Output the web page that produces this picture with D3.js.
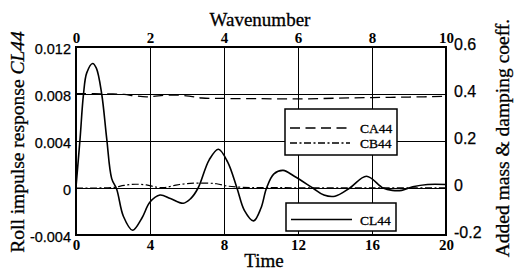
<!DOCTYPE html>
<html><head><meta charset="utf-8">
<script src="https://cdn.jsdelivr.net/npm/d3@7/dist/d3.min.js"></script>
<style>
html,body{margin:0;padding:0;background:#fff;}
svg{display:block;}
</style></head>
<body>
<svg id="c" width="514" height="273"></svg>
<script>
// ---- data ----
const timeTicks = [0, 4, 8, 12, 16, 20];
const wnTicks = [0, 2, 4, 6, 8, 10];
const leftTicks = [-0.004, 0, 0.004, 0.008, 0.012];
const leftLabels = ["-0.004", "0", "0.004", "0.008", "0.012"];
const rightTicks = [-0.2, 0, 0.2, 0.4, 0.6];
const rightLabels = ["-0.2", "0", "0.2", "0.4", "0.6"];

// CL44 roll impulse response vs time
const clTime = [0, 0.22, 0.4, 0.58, 0.9, 1.1, 1.39, 1.66, 1.93, 2.2, 2.56, 3.06, 3.55, 4.0, 4.54, 5.1, 5.8, 6.2, 6.6, 7.2, 7.7, 8.2, 8.7, 9.1, 9.6, 10.0, 10.3, 10.7, 11.2, 11.8, 12.8, 13.4, 14.0, 14.8, 15.7, 16.6, 17.1, 17.6, 18.2, 19.0, 20.0];
const clValue = [0.0001, 0.0042, 0.0079, 0.0098, 0.0106, 0.0102, 0.0080, 0.0042, 0.0008, -0.0001, -0.0024, -0.0036, -0.0026, -0.0012, -0.0006, -0.0009, -0.0013, -0.0009, 0.0000, 0.0024, 0.0033, 0.0022, 0.0000, -0.0019, -0.0028, -0.0017, 0.0000, 0.0012, 0.0015, 0.0010, 0.0000, -0.0006, -0.0007, 0.0000, 0.0010, 0.0000, -0.0002, -0.0002, 0.0001, 0.0003, 0.0003];

// CA44 added mass vs wavenumber
const caWn = [0, 0.5, 1.0, 1.3, 1.6, 1.9, 2.1, 2.4, 2.8, 3.1, 3.4, 4.0, 5.0, 6.0, 7.0, 8.0, 9.0, 10.0];
const caValue = [0.401, 0.401, 0.400, 0.398, 0.392, 0.388, 0.390, 0.395, 0.395, 0.390, 0.383, 0.381, 0.380, 0.379, 0.382, 0.385, 0.387, 0.390];

// CB44 damping vs wavenumber
const cbWn = [0, 0.5, 1.0, 1.3, 1.6, 1.9, 2.2, 2.4, 2.7, 3.0, 3.4, 3.8, 4.1, 4.5, 5.0, 6.0, 8.0, 10.0];
const cbValue = [0.0, 0.0, 0.002, 0.011, 0.016, 0.013, 0.003, 0.002, 0.012, 0.019, 0.021, 0.018, 0.008, 0.003, 0.002, 0.001, 0.001, 0.001];

const legendTop = [{name: "CA44", dash: "10,5.5"}, {name: "CB44", dash: "7,2.5,2,2.5"}];
const legendBottom = [{name: "CL44", dash: null}];

// ---- layout ----
const L = 76, R = 446, T = 47, B = 235;
const svg = d3.select("#c");
const x = d3.scaleLinear().domain([0, 20]).range([L, R]);
const xw = d3.scaleLinear().domain([0, 10]).range([L, R]);
const yL = d3.scaleLinear().domain([-0.004, 0.012]).range([B, T]);
const yR = d3.scaleLinear().domain([-0.2, 0.6]).range([B, T]);

const sans = "'Liberation Sans', Arial, sans-serif";
const serif = "'Liberation Serif', 'Times New Roman', serif";
const px = v => Math.round(v) + 0.5;

// gridlines
const g = svg.append("g").attr("stroke", "#000").attr("stroke-width", 1).attr("shape-rendering", "crispEdges");
g.selectAll("line.v").data(timeTicks.slice(1, -1)).join("line")
  .attr("x1", d => px(x(d))).attr("x2", d => px(x(d))).attr("y1", T).attr("y2", B);
g.selectAll("line.h").data([0, 0.004, 0.008]).join("line")
  .attr("x1", L).attr("x2", R).attr("y1", d => px(yL(d))).attr("y2", d => px(yL(d)));

// curves
const curve = d3.curveCatmullRom.alpha(0.5);
const clLine = d3.line().x((d, i) => x(clTime[i])).y(d => yL(d)).curve(curve);
const caLine = d3.line().x((d, i) => xw(caWn[i])).y(d => yR(d)).curve(curve);
const cbLine = d3.line().x((d, i) => xw(cbWn[i])).y(d => yR(d)).curve(curve);

svg.append("path").attr("d", caLine(caValue)).attr("fill", "none")
  .attr("stroke", "#000").attr("stroke-width", 1.3).attr("stroke-dasharray", legendTop[0].dash);
svg.append("path").attr("d", cbLine(cbValue)).attr("fill", "none")
  .attr("stroke", "#000").attr("stroke-width", 1.2).attr("stroke-dasharray", legendTop[1].dash);
svg.append("path").attr("d", clLine(clValue)).attr("fill", "none")
  .attr("stroke", "#000").attr("stroke-width", 1.6);

// frame
svg.append("rect").attr("x", L).attr("y", T).attr("width", R - L).attr("height", B - T)
  .attr("fill", "none").attr("stroke", "#000").attr("stroke-width", 2).attr("shape-rendering", "crispEdges");

// axes
function styleAxis(sel, font, size, weight) {
  sel.select(".domain").remove();
  sel.selectAll("line").remove();
  sel.selectAll("text").attr("font-family", font).attr("font-size", size)
    .attr("font-weight", weight).attr("fill", "#000");
}
const axB = svg.append("g").attr("transform", `translate(0,${B})`)
  .call(d3.axisBottom(x).tickValues(timeTicks).tickSize(0).tickPadding(4).tickFormat(d3.format("d")));
styleAxis(axB, serif, 15, "bold");
const axT = svg.append("g").attr("transform", `translate(0,${T})`)
  .call(d3.axisTop(xw).tickValues(wnTicks).tickSize(0).tickPadding(4).tickFormat(d3.format("d")));
styleAxis(axT, serif, 15, "bold");
const axL = svg.append("g").attr("transform", `translate(${L},0)`)
  .call(d3.axisLeft(yL).tickValues(leftTicks).tickSize(0).tickPadding(5)
    .tickFormat((d, i) => leftLabels[i]));
styleAxis(axL, sans, 14.5, "normal");
axL.selectAll("text").attr("dy", "0.45em").attr("stroke", "#000").attr("stroke-width", 0.25);
const axR = svg.append("g").attr("transform", `translate(${R},0)`)
  .call(d3.axisRight(yR).tickValues(rightTicks).tickSize(0).tickPadding(8)
    .tickFormat((d, i) => rightLabels[i]));
styleAxis(axR, sans, 16, "normal");
axR.selectAll("text").attr("dy", "0.15em").attr("stroke", "#000").attr("stroke-width", 0.25);

// titles
svg.append("text").attr("x", 260).attr("y", 26).attr("text-anchor", "middle")
  .attr("font-family", serif).attr("font-size", 19).attr("stroke", "#000").attr("stroke-width", 0.3).text("Wavenumber");
svg.append("text").attr("x", 264).attr("y", 267).attr("text-anchor", "middle")
  .attr("font-family", serif).attr("font-size", 19).attr("stroke", "#000").attr("stroke-width", 0.3).text("Time");
const lt = svg.append("text").attr("transform", "translate(24,142) rotate(-90)")
  .attr("text-anchor", "middle").attr("font-family", serif).attr("font-size", 19.5)
  .attr("stroke", "#000").attr("stroke-width", 0.3);
lt.append("tspan").text("Roll impulse response ");
lt.append("tspan").attr("font-style", "italic").text("CL44");
svg.append("text").attr("transform", "translate(509,138) rotate(-90)")
  .attr("text-anchor", "middle").attr("font-family", serif).attr("font-size", 19.5)
  .attr("stroke", "#000").attr("stroke-width", 0.3)
  .text("Added mass & damping coeff.");

// legends
function legend(items, bx, by, bw, bh, rowY, lineEnd) {
  const lg = svg.append("g");
  lg.append("rect").attr("x", bx).attr("y", by).attr("width", bw).attr("height", bh)
    .attr("fill", "#fff").attr("stroke", "#000").attr("stroke-width", 1.5);
  items.forEach((it, i) => {
    const yy = rowY + i * 15;
    lg.append("line").attr("x1", bx + 5).attr("x2", lineEnd).attr("y1", yy).attr("y2", yy)
      .attr("stroke", "#000").attr("stroke-width", it.dash ? 1.3 : 1.6)
      .attr("stroke-dasharray", it.dash);
    lg.append("text").attr("x", 360).attr("y", yy + 5)
      .attr("font-family", serif).attr("font-size", 13.5)
      .attr("stroke", "#000").attr("stroke-width", 0.3).text(it.name);
  });
}
legend(legendTop, 285, 109, 112, 46, 128, 350);
legend(legendBottom, 286, 203, 110, 28, 219.5, 352);
</script>
</body></html>
